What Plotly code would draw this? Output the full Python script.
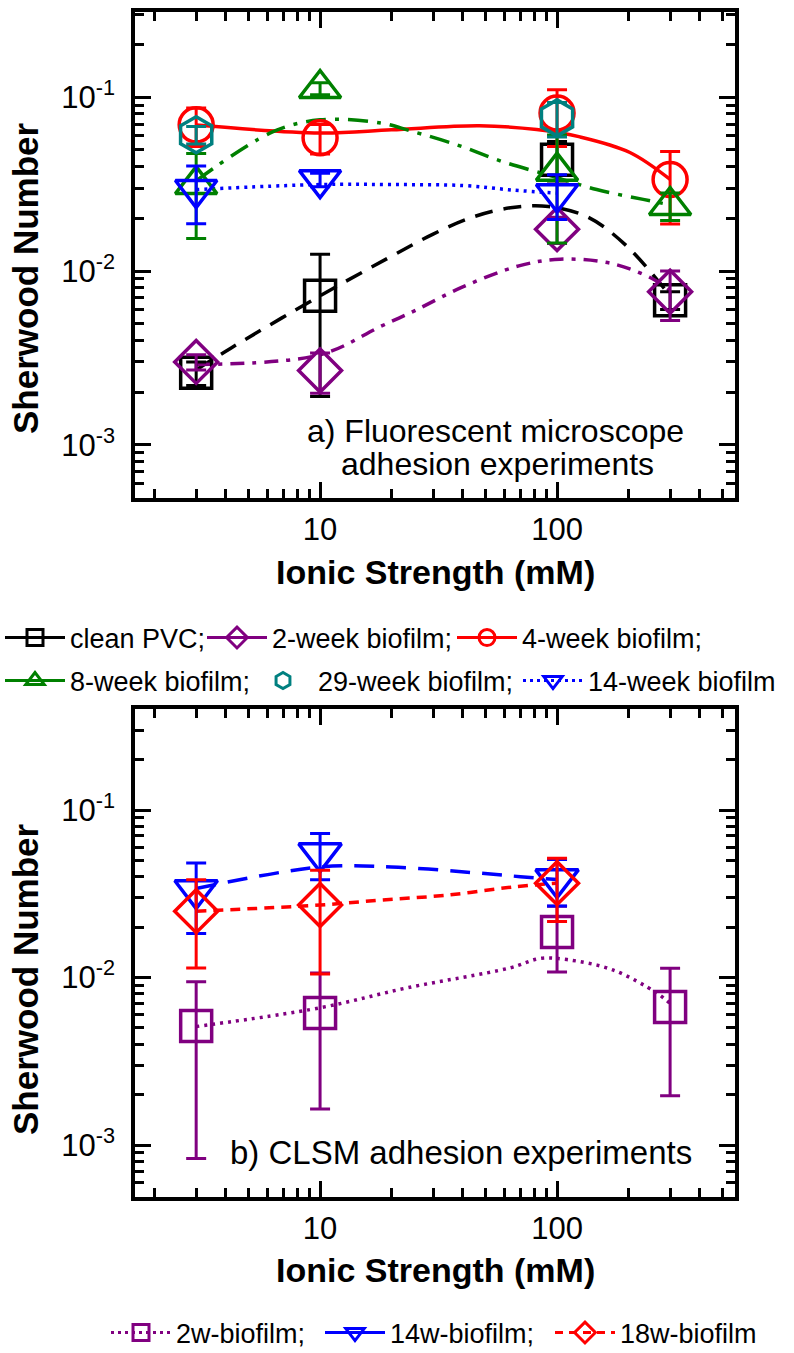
import plotly.graph_objects as go

# ---------------- panel a) Fluorescent microscope ----------------
ionic = [3, 10, 100, 300]
pvc_y = [0.0026, 0.0072, 0.0436, 0.0068]
pvc_err = [0.0004, 0.0053, 0.012, 0.0008]
w2_y = [0.0030, 0.00268, 0.0174, 0.0076]
w2_err = [0.0003, 0.0007, 0.003, 0.0024]
w4_y = [0.0692, 0.0583, 0.081, 0.0336]
w4_err = [0.0172, 0.0112, 0.029, 0.015]
w8_y = [0.0314, 0.112, 0.0375, 0.0238]
w8_err = [0.016, 0.009, 0.023, 0.0043]
ionic_29 = [3, 100]
w29_y = [0.0607, 0.0759]
w29_err = [0.007, 0.017]
ionic_14 = [3, 10, 100]
w14_y = [0.0294, 0.0335, 0.0278]
w14_err = [0.0107, 0.003, 0.008]

# smooth guide curves
pvc_fit_x = [3, 4.2, 10, 19, 30, 44, 65, 92, 135, 197, 300]
pvc_fit_y = [0.0027, 0.0036, 0.0072, 0.0117, 0.0163, 0.0204, 0.0232, 0.0235, 0.0204, 0.0139, 0.0072]
w2_fit_x = [3, 10, 18, 25, 40, 69, 103, 172, 254, 300]
w2_fit_y = [0.0029, 0.0033, 0.0048, 0.0059, 0.0081, 0.0107, 0.0117, 0.0110, 0.0090, 0.0077]
w4_fit_x = [3, 10, 20, 47, 82, 125, 203, 300]
w4_fit_y = [0.069, 0.0622, 0.0648, 0.0683, 0.065, 0.059, 0.048, 0.0336]
w8_fit_x = [3, 6.3, 10, 18, 24, 38, 59, 96, 147, 231, 300]
w8_fit_y = [0.033, 0.063, 0.074, 0.071, 0.064, 0.053, 0.0425, 0.035, 0.0294, 0.0258, 0.0240]
w14_fit_x = [3, 10, 20, 40, 65, 100]
w14_fit_y = [0.0294, 0.0314, 0.0314, 0.0310, 0.0292, 0.0280]

# ---------------- panel b) CLSM ----------------
b_w2_y = [0.00513, 0.00614, 0.0187, 0.00667]
b_w2_err = [0.0043, 0.0045, 0.0079, 0.0047]
b_ionic = [3, 10, 100]
b_w14_y = [0.0333, 0.0553, 0.0387]
b_w14_err = [0.015, 0.017, 0.012]
b_w18_y = [0.0249, 0.0271, 0.0366]
b_w18_err = [0.0135, 0.0166, 0.015]

b_w2_fit_x = [3, 10, 23.5, 63, 85, 110, 172, 263, 300]
b_w2_fit_y = [0.0051, 0.0066, 0.0087, 0.0114, 0.0130, 0.0128, 0.0111, 0.0081, 0.0070]
b_w14_fit_x = [3, 10, 20, 47, 70, 100]
b_w14_fit_y = [0.034, 0.0457, 0.0457, 0.042, 0.040, 0.0385]
b_w18_fit_x = [3, 10, 18, 34, 65, 100]
b_w18_fit_y = [0.0249, 0.0271, 0.029, 0.031, 0.0347, 0.0366]

# axis ticks / labels
x_tickvals = [10, 100]
x_ticktext = ["10", "100"]
x_minor = [2, 3, 4, 5, 6, 7, 8, 9, 20, 30, 40, 50, 60, 70, 80, 90, 200, 300, 400, 500]
y_tickvals = [0.001, 0.01, 0.1]
y_ticktext = ["10<sup>-3</sup>", "10<sup>-2</sup>", "10<sup>-1</sup>"]
y_minor = [0.0006, 0.0007, 0.0008, 0.0009,
           0.002, 0.003, 0.004, 0.005, 0.006, 0.007, 0.008, 0.009,
           0.02, 0.03, 0.04, 0.05, 0.06, 0.07, 0.08, 0.09, 0.2, 0.3]

FONT = "Liberation Sans, Arial, sans-serif"
BLACK, PURPLE, RED, GREEN, TEAL, BLUE = "#000000", "#800080", "#ff0000", "#008000", "#008080", "#0000ff"
LW = 3.5

W, H = 794, 1353
L, R, T, B = 135, 59, 12, 156
PW, PH = W - L - R, H - T - B

fig = go.Figure()


def curve(x, y, color, dash, xa, ya):
    fig.add_trace(go.Scatter(x=x, y=y, mode="lines", line=dict(color=color, width=LW, dash=dash, shape="spline"),
                             showlegend=False, hoverinfo="skip", xaxis=xa, yaxis=ya))


def points(x, y, err, color, symbol, size, xa, ya, name):
    fig.add_trace(go.Scatter(x=x, y=y, mode="markers", name=name, showlegend=False,
                             marker=dict(symbol=symbol, size=size, color=color, line=dict(width=LW, color=color)),
                             error_y=dict(type="data", array=err, symmetric=True, thickness=3, width=10, color=color),
                             xaxis=xa, yaxis=ya))


legend_layout = {}


def legend_item(name, color, symbol, dash, idx, text_x, row_y, lines=True):
    key = "legend" if idx == 1 else "legend%d" % idx
    fig.add_trace(go.Scatter(x=[None], y=[None], mode="lines+markers" if lines else "markers", name=name,
                             line=dict(color=color, width=3, dash=dash),
                             marker=dict(symbol=symbol, size=16, color=color, line=dict(width=3, color=color)),
                             legend=key, xaxis="x", yaxis="y", hoverinfo="skip"))
    legend_layout[key] = dict(xref="container", yref="container", x=max(text_x - 70, 0) / W, y=1 - row_y / H,
                              xanchor="left", yanchor="middle", orientation="h", itemwidth=60,
                              font=dict(size=27, family=FONT, color=BLACK), bgcolor="rgba(0,0,0,0)")


# panel a curves
curve(pvc_fit_x, pvc_fit_y, BLACK, "18px,11px", "x", "y")
curve(w2_fit_x, w2_fit_y, PURPLE, "14px,8px,4px,8px", "x", "y")
curve(w4_fit_x, w4_fit_y, RED, "solid", "x", "y")
curve(w8_fit_x, w8_fit_y, GREEN, "20px,9px,4px,9px", "x", "y")
curve(w14_fit_x, w14_fit_y, BLUE, "3px,5px", "x", "y")
# panel a points
points(ionic, pvc_y, pvc_err, BLACK, "square-open", 31, "x", "y", "clean PVC")
points(ionic, w2_y, w2_err, PURPLE, "diamond-open", 33, "x", "y", "2-week biofilm")
points(ionic, w4_y, w4_err, RED, "circle-open", 34, "x", "y", "4-week biofilm")
points(ionic, w8_y, w8_err, GREEN, "triangle-up-open", 36, "x", "y", "8-week biofilm")
points(ionic_29, w29_y, w29_err, TEAL, "hexagon-open", 36, "x", "y", "29-week biofilm")
points(ionic_14, w14_y, w14_err, BLUE, "triangle-down-open", 36, "x", "y", "14-week biofilm")

# panel b curves and points
curve(b_w2_fit_x, b_w2_fit_y, PURPLE, "3px,5px", "x2", "y2")
curve(b_w14_fit_x, b_w14_fit_y, BLUE, "20px,12px", "x2", "y2")
curve(b_w18_fit_x, b_w18_fit_y, RED, "10px,7px", "x2", "y2")
points(ionic, b_w2_y, b_w2_err, PURPLE, "square-open", 31, "x2", "y2", "2w-biofilm")
points(b_ionic, b_w14_y, b_w14_err, BLUE, "triangle-down-open", 37, "x2", "y2", "14w-biofilm")
points(b_ionic, b_w18_y, b_w18_err, RED, "diamond-open", 33, "x2", "y2", "18w-biofilm")

# legend entries (one legend box per entry so they sit where the reference has them)
legend_item("clean PVC;", BLACK, "square-open", "solid", 1, 62, 638)
legend_item("2-week biofilm;", PURPLE, "diamond-open", "solid", 2, 272, 638)
legend_item("4-week biofilm;", RED, "circle-open", "solid", 3, 522, 638)
legend_item("8-week biofilm;", GREEN, "triangle-up-open", "solid", 4, 62, 681)
legend_item("29-week biofilm;", TEAL, "hexagon-open", "solid", 5, 318, 681, lines=False)
legend_item("14-week biofilm", BLUE, "triangle-down-open", "3px,4px", 6, 588, 681)
legend_item("2w-biofilm;", PURPLE, "square-open", "3px,4px", 7, 176, 1333)
legend_item("14w-biofilm;", BLUE, "triangle-down-open", "solid", 8, 390, 1333)
legend_item("18w-biofilm", RED, "diamond-open", "8px,6px", 9, 620, 1333)


def px(xp):
    return (xp - L) / PW


def py(yp):
    return (H - B - yp) / PH


def axis_common(minor_vals):
    return dict(ticks="inside", ticklen=16, tickwidth=3, tickcolor=BLACK, showline=True, linewidth=3.5,
                linecolor=BLACK, mirror="ticks", showgrid=False, zeroline=False,
                minor=dict(ticks="inside", ticklen=9, tickwidth=3, tickcolor=BLACK, tickvals=minor_vals,
                           showgrid=False),
                tickfont=dict(size=31, color=BLACK, family=FONT))


fig.update_layout(
    width=W, height=H, margin=dict(l=L, r=R, t=T, b=B, autoexpand=False),
    plot_bgcolor="white", paper_bgcolor="white",
    font=dict(family=FONT, color=BLACK),
    xaxis=dict(type="log", range=[0.219, 2.751], tickvals=x_tickvals, ticktext=x_ticktext, anchor="y",
               ticklabelstandoff=1, **axis_common(x_minor)),
    yaxis=dict(type="log", range=[-3.305, -0.511], tickvals=y_tickvals, ticktext=y_ticktext, anchor="x",
               domain=[(H - B - 498) / PH, 1.0], ticklabelstandoff=10, **axis_common(y_minor)),
    xaxis2=dict(type="log", range=[0.219, 2.751], tickvals=x_tickvals, ticktext=x_ticktext, anchor="y2",
                ticklabelstandoff=1, **axis_common(x_minor)),
    yaxis2=dict(type="log", range=[-3.31, -0.397], tickvals=y_tickvals, ticktext=y_ticktext, anchor="x2",
                domain=[0, (H - B - 709) / PH], ticklabelstandoff=10, **axis_common(y_minor)),
    **legend_layout,
)

ann_font = dict(size=32, color=BLACK, family=FONT)
fig.add_annotation(text="a) Fluorescent microscope", xref="paper", yref="paper", x=px(495), y=py(431),
                   showarrow=False, font=ann_font, xanchor="center", yanchor="middle")
fig.add_annotation(text="adhesion experiments", xref="paper", yref="paper", x=px(497), y=py(464),
                   showarrow=False, font=ann_font, xanchor="center", yanchor="middle")
fig.add_annotation(text="b) CLSM adhesion experiments", xref="paper", yref="paper", x=px(461), y=py(1152),
                   showarrow=False, font=dict(size=33, color=BLACK, family=FONT), xanchor="center", yanchor="middle")
# axis titles
for yc in (278, 979):
    fig.add_annotation(text="<b>Sherwood Number</b>", xref="paper", yref="paper", x=px(25), y=py(yc),
                       showarrow=False, textangle=-90, font=dict(size=35, color=BLACK, family=FONT),
                       xanchor="center", yanchor="middle")
for yc in (572, 1270):
    fig.add_annotation(text="<b>Ionic Strength (mM)</b>", xref="paper", yref="paper", x=px(435), y=py(yc),
                       showarrow=False, font=dict(size=34, color=BLACK, family=FONT),
                       xanchor="center", yanchor="middle")

fig.write_html("out.html")
